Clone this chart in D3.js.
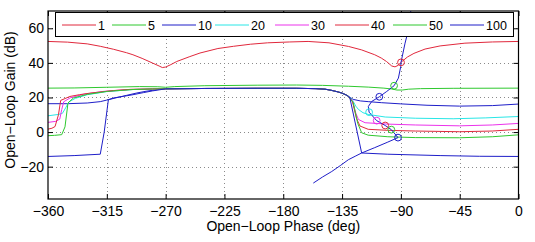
<!DOCTYPE html>
<html>
<head>
<meta charset="utf-8">
<script src="https://cdn.jsdelivr.net/npm/d3@7"></script>
<style>
  body { margin: 0; background: #fff; }
  text { font-family: "Liberation Sans", Arial, Helvetica, sans-serif; }
</style>
</head>
<body>
<script>
// Datos (fase en grados, ganancia en dB)
const labels = ["1", "5", "10", "20", "30", "40", "50", "100"];
const xTicks = [-360, -315, -270, -225, -180, -135, -90, -45, 0];
const yTicks = [-20, 0, 20, 40, 60];

const curve1 = [[-360,52.4],[-345,52.0],[-330,51.0],[-320,49.6],[-310,47.9],[-300,45.9],[-295,44.7],
  [-288,42.6],[-280,39.9],[-275,38.2],[-272.5,37.3],[-270,37.6],[-266,39.0],[-261.5,40.8],[-252,43.5],
  [-243.7,45.7],[-230,48.3],[-218,49.6],[-205,50.8],[-192,51.6],[-175,52.1],[-161,52.4],[-145,51.6],
  [-130,49.5],[-120,47.5],[-110,44.7],[-105,42.8],[-101,40.8],[-97,38.2],[-94.5,37.7],[-92,38.6],
  [-90,40.3],[-85,43.4],[-80,45.5],[-71.5,48],[-60,49.8],[-41,51.4],[-20,52.1],[0,52.4]];

const curve5 = [[-360,25.4],[-340,25.5],[-315,25.9],[-290,26.3],[-276,26.2],[-270,25.9],[-263,26.3],
  [-240,26.8],[-200,27.1],[-170,27.2],[-150,27.0],[-130,26.5],[-115,26.0],[-103,25.4],[-97,24.9],
  [-93,24.3],[-89,24.3],[-84,24.8],[-75,25.1],[-50,25.3],[0,25.4]];

// tramo común de las curvas 10 a 100
const plateau = [[-270,25.0],[-240,25.2],[-200,25.3],[-170,25.3],[-155,25.1],[-148,24.8],[-143,24.1],
  [-138,23.2],[-135,22.5],[-132,21.5],[-130,20.6]];

const left10 = [[-360,16.4],[-345,16.4],[-330,16.8],[-320,17.6],[-315,18.5],[-308,19.8],[-300,21.2],[-292,22.6],[-285,23.6],[-276,24.6]];
const left20 = [[-360,9.4],[-352,10.2],[-349,10.8],[-346.5,14],[-344,17.5],[-339,19.5],[-330,21.6],[-315,23.4],[-295,24.6],[-280,24.9]];
const left30 = [[-360,5.6],[-354,6.2],[-351,7.5],[-349.5,13],[-348,17.5],[-343,19.8],[-333,21.8],[-318,23.5],[-298,24.6],[-280,24.9]];
const left40 = [[-360,1.7],[-357,2.2],[-354.6,3.2],[-352,10],[-350.3,18.3],[-343.2,20.6],[-336,21.6],[-328,22.5],[-310,24.0],[-297,24.7],[-280,24.95]];
const left50 = [[-360,-2.1],[-355,-1.9],[-349.5,-1.5],[-347,3],[-344.7,16.8],[-340.6,19.7],[-330,21.8],[-315,23.5],[-295,24.6],[-280,24.9]];
const left100 = [[-360,-14.1],[-340,-13.6],[-320,-12.8],[-317,0],[-313.8,18.7],[-310,19.7],[-302,20.7],[-295,21.6],[-287,22.8],[-280,23.8]];

const right10 = [[-126.5,18.9],[-121,18.0],[-115,17.6],[-105,17.0],[-90,16.3],[-70,15.5],[-45,15.0],[-20,15.3],[0,16.2]];
const right20 = [[-127,18.5],[-124.5,15],[-122.5,13.1],[-119,11.2],[-115,10.2],[-102,8.7],[-79,8.0],[-50,7.7],[-25,8.2],[0,9.0]];
const right30 = [[-127,18],[-124.5,11],[-122.5,7.3],[-117.4,5.4],[-100,4.6],[-79,4.1],[-45,3.6],[-20,4.1],[0,5.0]];
const right40 = [[-127,17.5],[-124,8],[-121.3,3.5],[-115,1.6],[-100,1.0],[-79,0.6],[-45,0.2],[-20,0.6],[0,1.6]];
const right50 = [[-126.5,17],[-123,5],[-120,-0.4],[-115,-1.8],[-100,-2.7],[-79,-3.2],[-45,-3.3],[-20,-2.7],[0,-1.6]];
const right100 = [[-129,19.7],[-120,-12.1],[-100,-12.8],[-60,-13.6],[-30,-14.0],[0,-14.1]];

// línea que une los círculos
const locus = [[-157,-29.5],[-150,-26.0],[-142.9,-22.8],[-136,-19.2],[-130.2,-16],[-125,-14],[-120,-12.1],
  [-110,-9],[-100,-5.8],[-92.2,-3.2],[-97.3,1.4],[-102,3.8],[-108.5,6.6],[-114.3,11.5],[-114.9,14.8],
  [-112.3,17.7],[-106.5,20.4],[-100.8,23.5],[-95.2,26.8],[-91.9,31.2],[-90.1,37.9],[-89.9,40.3],
  [-86.8,51.4],[-85.5,55.3],[-84,62],[-82,72]];

// círculos, uno por curva (mismo orden que labels)
const markPhase = [-89.9, -95.2, -106.5, -114.3, -108.5, -102, -97.3, -92.2];
const markGain = [40.3, 26.8, 20.4, 11.5, 6.6, 3.8, 1.4, -3.2];

// Estilos
const colors = ["#e0283c", "#2ec82e", "#1e1ec8", "#28e6e6", "#eb32eb", "#e0283c", "#2ec82e", "#1e1ec8"];
const legendX = [62, 112, 162, 215, 275, 335, 393, 450];

const w = 535, h = 242;
const pLeft = 48, pRight = 518.5, pTop = 11, pBottom = 199;

const series = [
  curve1,
  curve5,
  left10.concat(plateau, right10),
  left20.concat(plateau, right20),
  left30.concat(plateau, right30),
  left40.concat(plateau, right40),
  left50.concat(plateau, right50),
  left100.concat(plateau, right100)
];

const svg = d3.select("body").append("svg")
  .attr("width", w)
  .attr("height", h);

const x = d3.scaleLinear().domain([-360, 0]).range([pLeft, pRight]);
const y = d3.scaleLinear().domain([-38.7, 70]).range([pBottom, pTop]);

// Rejilla
const grid = svg.append("g")
  .attr("stroke", "#8a8a8a")
  .attr("stroke-width", 1)
  .attr("stroke-dasharray", "1,3");
grid.selectAll(".gx").data(xTicks.slice(1, -1)).enter().append("line")
  .attr("x1", d => Math.round(x(d)) + 0.5).attr("x2", d => Math.round(x(d)) + 0.5)
  .attr("y1", pTop).attr("y2", pBottom);
grid.selectAll(".gy").data(yTicks).enter().append("line")
  .attr("y1", d => Math.round(y(d)) + 0.5).attr("y2", d => Math.round(y(d)) + 0.5)
  .attr("x1", pLeft).attr("x2", pRight);

// Curvas
svg.append("clipPath").attr("id", "clip")
  .append("rect").attr("x", pLeft).attr("y", pTop).attr("width", pRight - pLeft).attr("height", pBottom - pTop);

const plot = svg.append("g").attr("clip-path", "url(#clip)");

const line = d3.line()
  .x(d => x(d[0]))
  .y(d => y(d[1]));

plot.selectAll(".curve").data(series).enter().append("path")
  .attr("d", line)
  .attr("fill", "none")
  .attr("stroke", (d, i) => colors[i])
  .attr("stroke-width", 1)
  .attr("stroke-linejoin", "round");

plot.append("path")
  .attr("d", line(locus))
  .attr("fill", "none")
  .attr("stroke", colors[7])
  .attr("stroke-width", 1)
  .attr("stroke-linejoin", "round");

plot.selectAll(".mark").data(markPhase).enter().append("circle")
  .attr("cx", d => x(d))
  .attr("cy", (d, i) => y(markGain[i]))
  .attr("r", 3.4)
  .attr("fill", "none")
  .attr("stroke", (d, i) => colors[i])
  .attr("stroke-width", 1);

// Ejes (ticks hacia dentro, estilo MATLAB)
const fmt = d3.format("d");
svg.append("g")
  .attr("transform", "translate(0," + pBottom + ")")
  .call(d3.axisBottom(x).tickValues(xTicks).tickSize(-5).tickPadding(7).tickFormat(fmt))
  .call(g => g.select(".domain").remove());
svg.append("g")
  .attr("transform", "translate(0," + pTop + ")")
  .call(d3.axisTop(x).tickValues(xTicks).tickSize(-5).tickFormat(""))
  .call(g => g.select(".domain").remove());
svg.append("g")
  .attr("transform", "translate(" + pLeft + ",0)")
  .call(d3.axisLeft(y).tickValues(yTicks).tickSize(-5).tickPadding(4).tickFormat(fmt))
  .call(g => g.select(".domain").remove());
svg.append("g")
  .attr("transform", "translate(" + pRight + ",0)")
  .call(d3.axisRight(y).tickValues(yTicks).tickSize(-5).tickFormat(""))
  .call(g => g.select(".domain").remove());

svg.selectAll(".tick text")
  .attr("font-size", "14px")
  .attr("font-family", "'Liberation Sans', Arial, sans-serif")
  .attr("fill", "#000");
svg.selectAll(".tick line").attr("stroke", "#000");

svg.append("rect")
  .attr("x", pLeft).attr("y", pTop)
  .attr("width", pRight - pLeft).attr("height", pBottom - pTop)
  .attr("fill", "none").attr("stroke", "#000").attr("stroke-width", 1.2);

// Leyenda
const legend = svg.append("g");
legend.append("rect")
  .attr("x", 55.5).attr("y", 12.5)
  .attr("width", 458).attr("height", 24)
  .attr("fill", "#fff").attr("stroke", "#000").attr("stroke-width", 1);
labels.forEach((lab, i) => {
  legend.append("line")
    .attr("x1", legendX[i]).attr("x2", legendX[i] + 34)
    .attr("y1", 25).attr("y2", 25)
    .attr("stroke", colors[i]).attr("stroke-width", 1);
  legend.append("text")
    .attr("x", legendX[i] + 36).attr("y", 30)
    .attr("font-size", "12.5px")
    .text(lab);
});

// Títulos de los ejes
svg.append("text")
  .attr("x", (pLeft + pRight) / 2)
  .attr("y", 231)
  .attr("text-anchor", "middle")
  .attr("font-size", "14px")
  .text("Open\u2212Loop Phase (deg)");

svg.append("text")
  .attr("transform", "translate(15,100) rotate(-90)")
  .attr("text-anchor", "middle")
  .attr("font-size", "14px")
  .text("Open\u2212Loop Gain (dB)");
</script>
</body>
</html>
